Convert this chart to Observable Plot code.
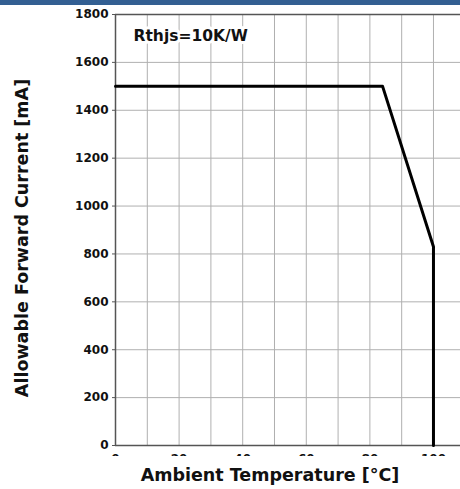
<!DOCTYPE html>
<html>
<head>
<meta charset="utf-8">
<script src="https://cdn.jsdelivr.net/npm/d3@7"></script>
<script src="https://cdn.jsdelivr.net/npm/@observablehq/plot@0.6"></script>
<style>
  html, body { margin: 0; padding: 0; background: #fff; }
  #bar { height: 5px; background: #335f92; width: 460px; }
  #xlabel { font-family: "DejaVu Sans", sans-serif; font-weight: bold; font-size: 17.5px; line-height: 20px;
            color: #111; width: 380px; padding-left: 80px; text-align: center; margin-top: 9px; }
</style>
</head>
<body>
<div id="bar"></div>
<div id="chart"></div>
<div id="xlabel">Ambient Temperature [°C]</div>
<script>
// Data
const temps = [0, 84, 100, 100];          // °C
const currents = [1500, 1500, 830, 0];    // mA
const xTicks = [0, 20, 40, 60, 80, 100];
const xGrid = [10, 20, 30, 40, 50, 60, 70, 80, 90, 100];
const yTicks = [0, 200, 400, 600, 800, 1000, 1200, 1400, 1600, 1800];
const title = "Rthjs=10K/W";
const yLabel = "Allowable Forward Current [mA]";

const curve = temps.map((t, i) => ({t, c: currents[i]}));

const plot = Plot.plot({
  width: 460,
  height: 451,
  marginTop: 9,
  marginLeft: 115,
  marginRight: 0,
  marginBottom: 11,
  style: {fontFamily: "'DejaVu Sans', sans-serif", fontWeight: "bold", fontSize: "12px", color: "#111", overflow: "hidden", background: "white"},
  x: {domain: [0, 108.5]},
  y: {domain: [0, 1800]},
  marks: [
    Plot.gridX(xGrid, {stroke: "#b0b0b0", strokeOpacity: 1, strokeWidth: 1}),
    Plot.gridY(yTicks, {stroke: "#b0b0b0", strokeOpacity: 1, strokeWidth: 1}),
    Plot.axisY(yTicks, {tickSize: 3, tickPadding: 4, label: null, stroke: "#555", tickFormat: d3.format("d")}),
    Plot.axisX(xTicks, {tickSize: 0, tickPadding: 9, label: null, tickFormat: d3.format("d")}),
    Plot.ruleX([0], {stroke: "#555", strokeWidth: 1.5}),
    Plot.ruleY([0, 1800], {stroke: "#555", strokeWidth: 1.5}),
    Plot.line(curve, {x: "t", y: "c", stroke: "black", strokeWidth: 3}),
    Plot.text([title], {frameAnchor: "top-left", dx: 18, dy: 15, fontSize: 15.5, fontWeight: "bold", textAnchor: "start", fill: "#111", stroke: "white", strokeWidth: 6}),
    Plot.text([yLabel], {frameAnchor: "left", rotate: -90, dx: -93, dy: 8, fontSize: 17.5, fontWeight: "bold", fill: "#111", textAnchor: "middle", lineAnchor: "middle"})
  ]
});
document.getElementById("chart").appendChild(plot);
</script>
</body>
</html>
